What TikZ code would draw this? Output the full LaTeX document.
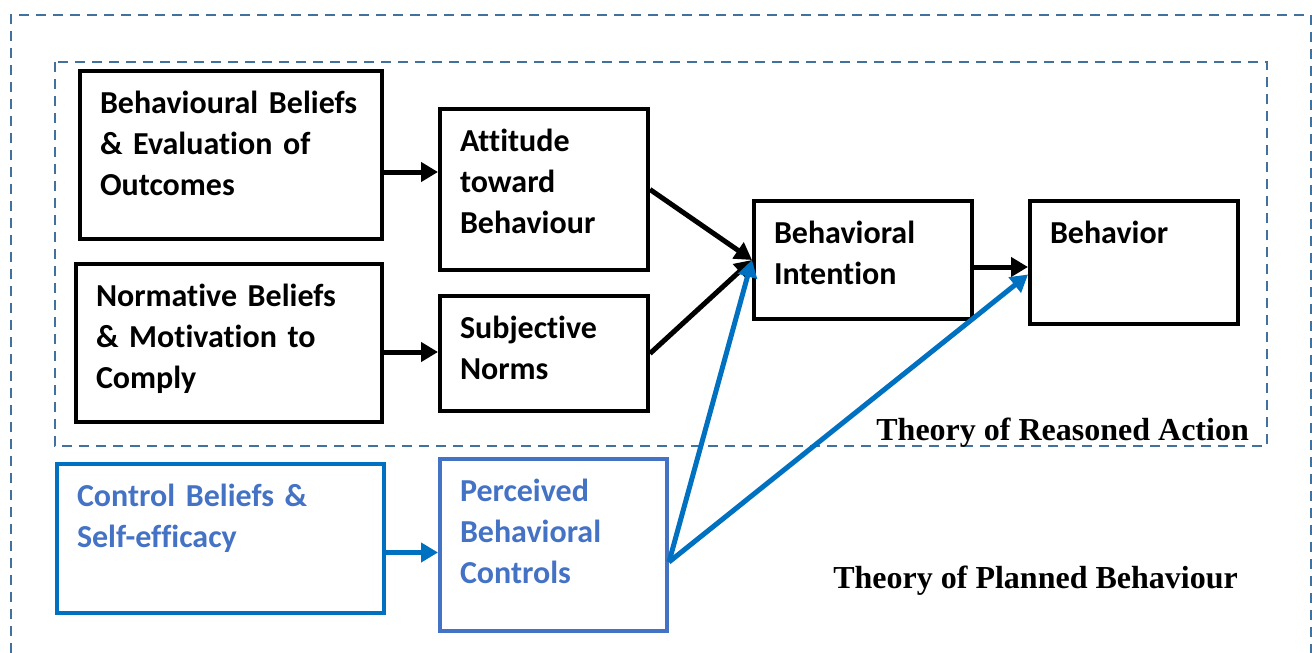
\documentclass[tikz,border=0pt]{standalone}
\usepackage{fontspec}
\setmainfont{Carlito}[Ligatures=NoCommon]
\newfontfamily\theoryFont{Liberation Serif}
\usetikzlibrary{positioning,arrows.meta}
\definecolor{frameColor}{HTML}{41719C}
\definecolor{arrowBlue}{HTML}{0070C0}
\definecolor{textBlue}{HTML}{4472C4}
\tikzstyle{diagram} = [x = 1pt, y = -1pt]
\tikzstyle{boxStyle} = [draw=black, line width=4pt, anchor=north west, align=left, inner xsep=20pt, inner ysep=22pt, text height=20pt, font=\bfseries\fontsize{32}{41}\selectfont]
\tikzstyle{blueBoxStyle} = [boxStyle, draw=arrowBlue, text=textBlue]
\tikzstyle{lightBoxStyle} = [boxStyle, draw=textBlue, text=textBlue]
\tikzstyle{frameStyle} = [color=frameColor, line width=2pt, dash pattern=on 10pt off 7pt]
\tikzstyle{arrowStyle} = [line width=5pt, -{Triangle[length=17pt,width=19pt]}]
\tikzstyle{blueArrowStyle} = [arrowStyle, color=arrowBlue]
\tikzstyle{theoryText} = [font=\theoryFont\bfseries\fontsize{32}{38}\selectfont, inner sep=0pt]
\newcommand{\diagramBox}[7]{
  \pgfmathsetmacro{\boxTextWidth}{#4 - 40}
  \pgfmathsetmacro{\boxTextDepth}{#5 - 64}
  \node [#6, text width=\boxTextWidth pt, text depth=\boxTextDepth pt] (#1) at (#2,#3) {#7};
}
\begin{document}
\begin{tikzpicture}[diagram]
  \useasboundingbox (0,0) rectangle (1312,653);
  % frames
  \draw [frameStyle] (11,653) -- (11,15) -- (1311,15) -- (1311,653);
  \draw [frameStyle] (55,62) rectangle (1267,446);
  \node [theoryText, anchor=base east] (reasoned) at (1249,440) {Theory of Reasoned Action};
  \node [theoryText, anchor=base east] (planned) at (1238,588) {Theory of Planned Behaviour};

  % boxes
  \diagramBox{beliefs}{78}{69}{302}{168}{boxStyle}{Behavioural Beliefs\\\& Evaluation of\\Outcomes}
  \diagramBox{attitude}{438}{107}{208}{161}{boxStyle}{Attitude\\toward\\Behaviour}
  \diagramBox{normative}{74}{262}{306}{158}{boxStyle}{Normative Beliefs\\\& Motivation to\\Comply}
  \diagramBox{norms}{438}{294}{208}{115}{boxStyle}{Subjective\\Norms}
  \diagramBox{intention}{752}{199}{218}{118}{boxStyle}{Behavioral\\Intention}
  \diagramBox{behavior}{1028}{199}{208}{123}{boxStyle}{Behavior}
  \diagramBox{control}{55}{462}{327}{149}{blueBoxStyle}{Control Beliefs \&\\Self-efficacy}
  \diagramBox{perceived}{438}{457}{227}{172}{lightBoxStyle}{Perceived\\Behavioral\\Controls}

  % arrows
  \coordinate (beliefsOut) at ([yshift=-17pt]beliefs.east);
  \coordinate (normativeOut) at ([yshift=-9pt]normative.east);
  \coordinate (intentionOut) at ([yshift=-7pt]intention.east);
  \coordinate (controlOut) at ([yshift=-14pt]control.east);
  \coordinate (perceivedOut) at ([yshift=-17pt]perceived.east);
  \draw [arrowStyle] (beliefsOut) -- (beliefsOut -| attitude.west);
  \draw [arrowStyle] (normativeOut) -- (normativeOut -| norms.west);
  \draw [arrowStyle] (attitude.east) -- (intention.west);
  \draw [arrowStyle] (norms.east) -- (intention.west);
  \draw [arrowStyle] (intentionOut) -- (intentionOut -| behavior.west);
  \draw [blueArrowStyle] (controlOut) -- (controlOut -| perceived.west);
  \draw [blueArrowStyle] (perceivedOut) -- (intention.west);
  \draw [blueArrowStyle] (perceivedOut) -- ([yshift=-12pt]behavior.west);
\end{tikzpicture}
\end{document}
